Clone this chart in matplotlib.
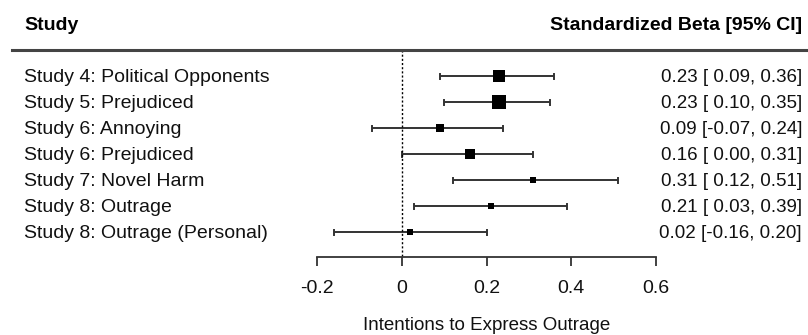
import matplotlib
matplotlib.use("Agg")
import matplotlib.pyplot as plt
from matplotlib.transforms import blended_transform_factory

plt.rcParams['font.family'] = ['Liberation Sans', 'DejaVu Sans']

studies = [
    "Study 4: Political Opponents",
    "Study 5: Prejudiced",
    "Study 6: Annoying",
    "Study 6: Prejudiced",
    "Study 7: Novel Harm",
    "Study 8: Outrage",
    "Study 8: Outrage (Personal)",
]
betas = [0.23, 0.23, 0.09, 0.16, 0.31, 0.21, 0.02]
ci_low = [0.09, 0.10, -0.07, 0.00, 0.12, 0.03, -0.16]
ci_high = [0.36, 0.35, 0.24, 0.31, 0.51, 0.39, 0.20]
weights = [11.5, 13.0, 8.5, 9.0, 5.3, 5.8, 6.0]
xticks = [-0.2, 0, 0.2, 0.4, 0.6]
xtick_labels = ["-0.2", "0", "0.2", "0.4", "0.6"]

W, H = 808, 335
fig = plt.figure(figsize=(W / 100, H / 100), dpi=100)
ax = fig.add_axes([0, 0, 1, 1])

# pixel layout: x=-0.2 at 317px, x=0.6 at 656px
px_per_unit = (656 - 317) / 0.8
x0_px = 317 + 0.2 * px_per_unit
ax.set_xlim(-x0_px / px_per_unit, (W - x0_px) / px_per_unit)
ax.set_ylim(H, 0)

row_y0, row_step = 76, 26
rows = [row_y0 + i * row_step for i in range(len(studies))]
axis_y = 257
header_line_y = 50
text_dy = 2

max_w = max(weights)
for y, b, lo, hi, w in zip(rows, betas, ci_low, ci_high, weights):
    ax.plot([lo, hi], [y, y], color="#333333", lw=1.4, solid_capstyle="butt")
    ax.plot([lo, lo], [y - 2.5, y + 2.5], color="#333333", lw=1.4)
    ax.plot([hi, hi], [y - 2.5, y + 2.5], color="#333333", lw=1.4)
    ax.plot([b], [y], marker="s", color="black", markersize=13.5 * 0.72 * w / max_w,
            markeredgewidth=0, linestyle="none")

# reference line at 0
ax.plot([0, 0], [header_line_y, axis_y], color="black", lw=1.0, linestyle=(0, (1.5, 1.5)))

# header line
ax.axhline(header_line_y, xmin=12 / W, xmax=1, color="#444444", lw=2.2)

# axis
for s in ["top", "left", "right"]:
    ax.spines[s].set_visible(False)
ax.spines["bottom"].set_position(("data", axis_y))
ax.spines["bottom"].set_bounds(xticks[0], xticks[-1])
ax.spines["bottom"].set_color("#333333")
ax.spines["bottom"].set_linewidth(1.3)
ax.set_xticks(xticks)
ax.set_xticklabels(xtick_labels, fontsize=14, color="#111111")
ax.tick_params(axis="x", direction="out", length=6.8, width=1.3, color="#333333", pad=10)
ax.set_yticks([])
ax.text(0.2, 326, "Intentions to Express Outrage", ha="center", va="center", fontsize=13.5,
        color="#111111")

trans = blended_transform_factory(fig.transFigure, ax.transData)
ax.text(24 / W, 25, "Study", transform=trans, ha="left", va="center", fontsize=14,
        fontweight="bold")
ax.text(802 / W, 25, "Standardized Beta [95% CI]", transform=trans, ha="right", va="center",
        fontsize=14, fontweight="bold")

for y, name, b, lo, hi in zip(rows, studies, betas, ci_low, ci_high):
    ax.text(24 / W, y + text_dy, name, transform=trans, ha="left", va="center", fontsize=14,
            color="#111111")
    lo_s = f"{lo:.2f}" if lo < 0 else f" {lo:.2f}"
    lab = f"{b:.2f} [{lo_s}, {hi:.2f}]"
    ax.text(802 / W, y + text_dy, lab, transform=trans, ha="right", va="center",
            fontsize=13.5, color="#111111")

fig.savefig("out.png", dpi=100)
